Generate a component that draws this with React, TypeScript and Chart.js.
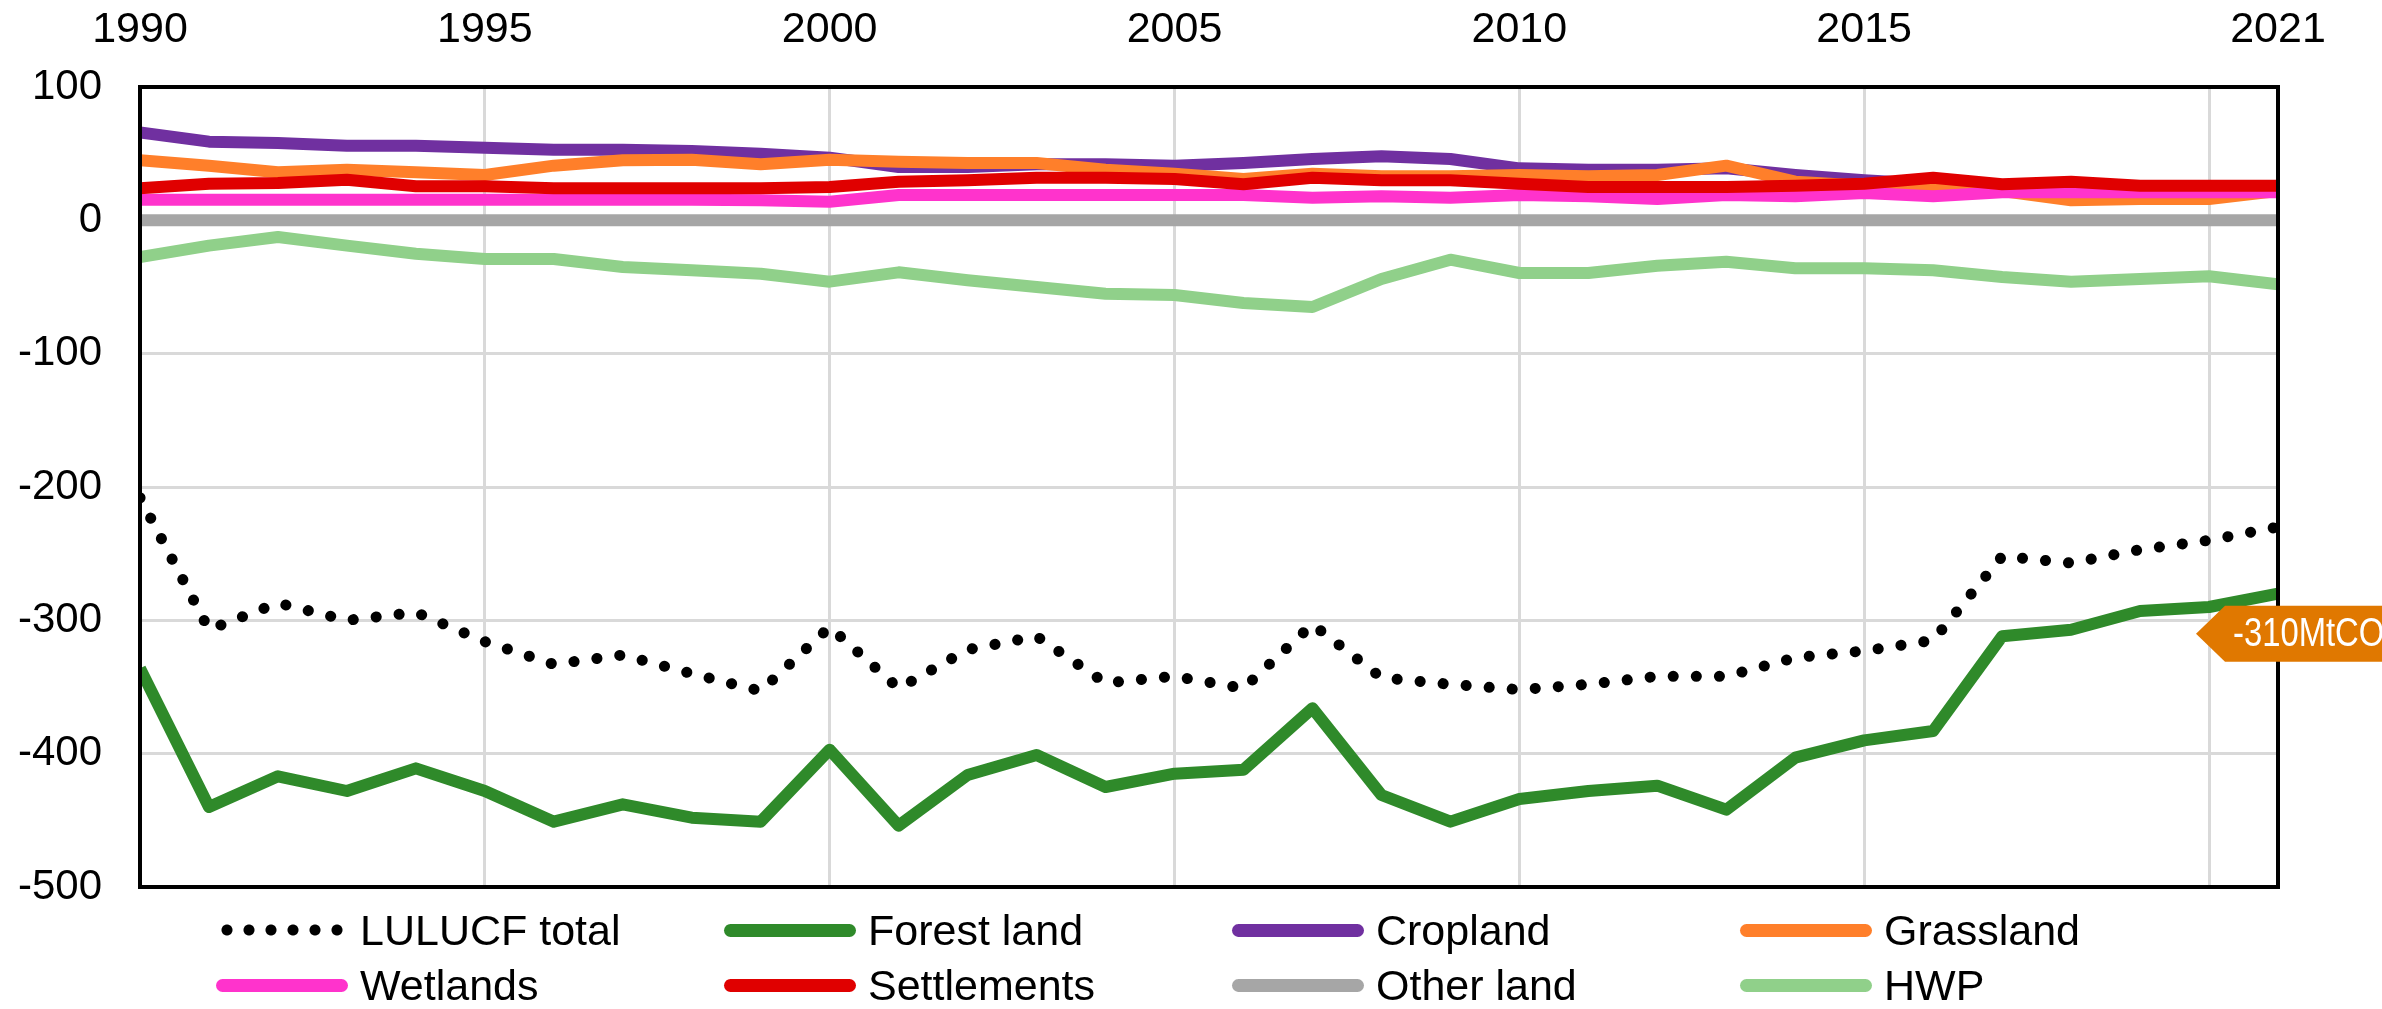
import React, { useEffect, useRef } from 'react';
import { Chart, registerables } from 'chart.js';

Chart.register(...registerables);

const years = [
  1990, 1991, 1992, 1993, 1994, 1995, 1996, 1997, 1998, 1999, 2000, 2001, 2002, 2003, 2004, 2005,
  2006, 2007, 2008, 2009, 2010, 2011, 2012, 2013, 2014, 2015, 2016, 2017, 2018, 2019, 2020, 2021,
];

const lulucfTotal = [
  -208, -307, -287, -300, -294, -316, -333, -326, -340, -353, -305, -351, -322, -312, -347, -342,
  -351, -303, -343, -348, -352, -348, -342, -342, -328, -323, -315, -252, -257, -247, -240, -230,
];
const forestLand = [
  -336, -440, -417, -428, -411, -428, -451, -438, -448, -451, -397, -454, -416, -401, -425, -415,
  -412, -366, -431, -451, -434, -428, -424, -442, -403, -390, -383, -312, -307, -293, -290, -280,
];
const cropland = [
  66, 59, 58, 56, 56, 54.5, 53, 53, 52, 50, 47, 40, 40, 42, 42, 41,
  43, 46, 48, 46, 39, 38, 38, 39, 34, 30, 27, 25, 25, 24, 24, 24,
];
const grassland = [
  45, 41, 36, 38, 36, 34, 41, 45, 45.5, 42, 45.5, 44, 43, 43, 38, 35,
  31, 35, 33, 33, 34, 33, 34, 41, 29, 26, 25, 22, 15, 16, 16, 22,
];
const wetlands = [
  15.5, 15.5, 15.5, 15.5, 15.5, 15.5, 15.5, 15.5, 15.5, 15, 14, 19, 19, 19, 19, 19,
  19, 17, 18, 17, 19, 18, 16, 19, 18, 20.5, 18, 21, 21, 21, 21, 21,
];
const settlements = [
  24, 27.5, 28, 30.5, 25.5, 25.5, 24, 24, 24, 24, 25, 29, 30, 32, 32, 31,
  27, 32, 30, 30, 27.5, 25, 25, 25, 26, 27.5, 32, 27, 29, 26, 26, 26,
];
const otherLand = [
  0, 0, 0, 0, 0, 0, 0, 0, 0, 0, 0, 0, 0, 0, 0, 0,
  0, 0, 0, 0, 0, 0, 0, 0, 0, 0, 0, 0, 0, 0, 0, 0,
];
const hwp = [
  -27.5, -19, -12.5, -19, -25, -29, -29, -35, -37.5, -40, -46, -39, -45, -50, -55, -56,
  -62, -65, -44, -29.5, -39.5, -39.5, -34, -31, -36, -36, -37.5, -42.5, -46, -44, -42, -48,
];

const seriesNames = [
  'LULUCF total', 'Forest land', 'Cropland', 'Grassland',
  'Wetlands', 'Settlements', 'Other land', 'HWP',
];
const seriesValues = [lulucfTotal, forestLand, cropland, grassland, wetlands, settlements, otherLand, hwp];
const seriesColors = [
  '#000000', '#2f8a2a', '#7030a0', '#ff7f2a',
  '#ff33cc', '#e00000', '#a6a6a6', '#90d08a',
];

const xTickValues = [1990, 1995, 2000, 2005, 2010, 2015, 2020, 2021];
const hiddenXTickLabels = [2020];
const yMin = -500;
const yMax = 100;
const yStep = 100;

const tagValue = -310;
const tagText = '-310MtCO';

const W = 2382;
const H = 1009;
const FONT = '"Liberation Sans", Arial, Helvetica, sans-serif';

const framePlugin = {
  id: 'frameAndTag',
  afterDatasetsDraw(chart: any) {
    const { ctx, chartArea: a } = chart;
    ctx.save();
    ctx.strokeStyle = '#000';
    ctx.lineWidth = 4;
    ctx.strokeRect(a.left, a.top, a.right - a.left, a.bottom - a.top);
    ctx.restore();
  },
  afterDraw(chart: any) {
    const { ctx } = chart;
    const y = chart.scales.y.getPixelForValue(tagValue);
    const tipX = chart.chartArea.right - 82;
    const half = 28;
    ctx.save();
    ctx.fillStyle = '#e07800';
    ctx.beginPath();
    ctx.moveTo(tipX, y);
    ctx.lineTo(tipX + 29, y - half);
    ctx.lineTo(chart.width, y - half);
    ctx.lineTo(chart.width, y + half);
    ctx.lineTo(tipX + 29, y + half);
    ctx.closePath();
    ctx.fill();
    ctx.fillStyle = '#ffffff';
    ctx.font = `40px ${FONT}`;
    ctx.textBaseline = 'middle';
    ctx.textAlign = 'left';
    ctx.translate(tipX + 37, y + 1);
    ctx.scale(0.82, 1);
    ctx.fillText(tagText, 0, 0);
    ctx.restore();
  },
};

export default function App() {
  const canvasRef = useRef<HTMLCanvasElement | null>(null);

  useEffect(() => {
    const canvas = canvasRef.current;
    if (!canvas) return;
    const datasets = seriesNames.map((name, i) => ({
      label: name,
      data: years.map((yr, j) => ({ x: yr, y: seriesValues[i][j] })),
      borderColor: seriesColors[i],
      backgroundColor: seriesColors[i],
      borderWidth: i === 0 ? 11 : 12,
      borderDash: i === 0 ? [0.1, 23] : [],
      borderCapStyle: i === 0 ? 'round' : 'butt',
      borderJoinStyle: 'round',
      pointRadius: 0,
      tension: 0,
      fill: false,
      order: seriesNames.length - i,
    }));

    const chart = new Chart(canvas, {
      type: 'line',
      data: { datasets } as any,
      options: {
        responsive: false,
        maintainAspectRatio: false,
        animation: false,
        devicePixelRatio: 1,
        layout: { padding: { left: 0, top: 0, right: 104, bottom: 122 } },
        plugins: { legend: { display: false }, tooltip: { enabled: false } },
        scales: {
          x: {
            type: 'linear',
            position: 'top',
            min: years[0],
            max: years[years.length - 1],
            afterBuildTicks: (s: any) => {
              s.ticks = xTickValues.map((v) => ({ value: v }));
            },
            afterFit: (s: any) => {
              s.height = 87;
            },
            ticks: {
              autoSkip: false,
              maxRotation: 0,
              minRotation: 0,
              padding: 31,
              color: '#000',
              font: { family: FONT, size: 43 },
              callback: (v: any) => (hiddenXTickLabels.includes(Number(v)) ? '' : String(v)),
            },
            grid: { color: '#d9d9d9', lineWidth: 3, drawTicks: false },
            border: { display: false },
          },
          y: {
            type: 'linear',
            min: yMin,
            max: yMax,
            afterFit: (s: any) => {
              s.width = 140;
            },
            ticks: {
              stepSize: yStep,
              padding: 38,
              color: '#000',
              font: { family: FONT, size: 42 },
            },
            grid: { color: '#d9d9d9', lineWidth: 3, drawTicks: false },
            border: { display: false },
          },
        },
      } as any,
      plugins: [framePlugin],
    });
    return () => chart.destroy();
  }, []);

  const colX0 = 216;
  const colPitch = 508;
  const rowCenters = [930, 985];

  return (
    <div style={{ position: 'absolute', left: 0, top: 0, width: W, height: H, background: '#fff', overflow: 'hidden' }}>
      <canvas ref={canvasRef} width={W} height={H} style={{ position: 'absolute', left: 0, top: 0, width: W, height: H }} />
      {seriesNames.map((name, i) => {
        const col = i % 4;
        const row = Math.floor(i / 4);
        const dotted = i === 0;
        return (
          <div
            key={name}
            style={{
              position: 'absolute',
              left: colX0 + col * colPitch,
              top: rowCenters[row] - 25,
              height: 50,
              display: 'flex',
              alignItems: 'center',
              whiteSpace: 'nowrap',
            }}
          >
            <div
              style={
                dotted
                  ? {
                      width: 132,
                      height: 12,
                      backgroundImage: 'radial-gradient(circle at center, #000 0, #000 5px, transparent 6px)',
                      backgroundSize: '22px 12px',
                      backgroundRepeat: 'repeat-x',
                    }
                  : { width: 132, height: 13, borderRadius: 6.5, background: seriesColors[i] }
              }
            />
            <span style={{ marginLeft: 12, fontFamily: FONT, fontSize: 43, color: '#000', lineHeight: 1 }}>{name}</span>
          </div>
        );
      })}
    </div>
  );
}
